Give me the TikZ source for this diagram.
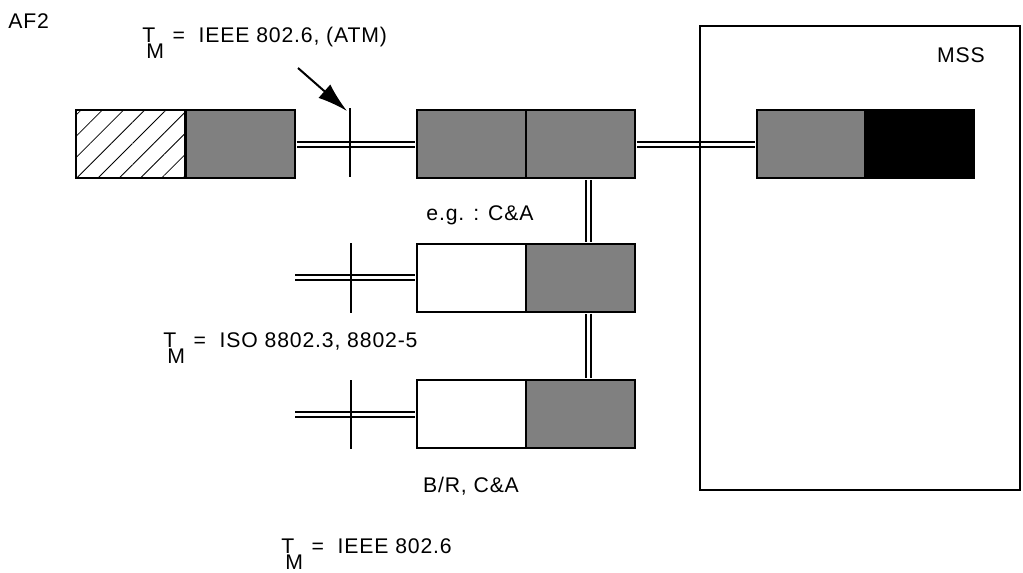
\documentclass[tikz,border=0pt]{standalone}
\usepackage{fontspec}
\setmainfont{Liberation Sans}[LetterSpace=4]
\usetikzlibrary{arrows.meta,patterns.meta}

\newcommand{\tmeq}{T\kern-0.42em\raisebox{-0.78em}{M}\kern0.4em=\kern0.65em}

\begin{document}
\begin{tikzpicture}[x=0.5pt,y=-0.5pt,
  every node/.style={font=\fontsize{10.6}{12}\selectfont},
  unit/.style={draw,line width=1pt,minimum width=54.5pt,minimum height=34pt,inner sep=0pt},
  greybox/.style={unit,fill=black!50},
  whitebox/.style={unit,fill=white},
  darkbox/.style={unit,fill=black},
  hatchbox/.style={unit,pattern={Lines[angle=45,distance=7.5pt,line width=0.4pt]}},
  link/.style={double,line width=1pt,double distance=1.5pt,shorten <=0.5pt,shorten >=0.5pt},
  tick/.style={line width=1pt},
  lbl/.style={inner sep=0pt}]

\useasboundingbox (0,0) rectangle (1023,573);

% top row
\node[hatchbox] (h1) at (130.5,144) {};
\node[greybox] (g1) at (240,144) {};
\node[greybox] (c1) at (471.5,144) {};
\node[greybox] (c2) at (580,144) {};

% MSS side
\node[greybox] (m1) at (811,144) {};
\node[darkbox] (m2) at (919,144) {};

% second and third rows
\node[whitebox] (b1) at (471.5,277.5) {};
\node[greybox] (b2) at (580,277.5) {};
\node[whitebox] (d1) at (471.5,414) {};
\node[greybox] (d2) at (580,414) {};

\coordinate (e2) at (294,277.5);
\coordinate (e3) at (294,414);

\draw[link] (g1.east) -- (c1.west);
\draw[link] (c2.east) -- (m1.west);
\draw[link] ([xshift=4.25pt]c2.south) -- ([xshift=4.25pt]b2.north);
\draw[link] ([xshift=4.25pt]b2.south) -- ([xshift=4.25pt]d2.north);
\draw[link] (e2) -- (b1.west);
\draw[link] (e3) -- (d1.west);

\node[draw,line width=1pt,minimum width=160pt,minimum height=232pt,inner sep=0pt] (mss) at (860,258) {};

% reference points
\draw[tick] (350,108) -- (350,177);
\draw[tick] (351,243) -- (351,313);
\draw[tick] (351,380) -- (351,449);

\coordinate (a0) at (298,68);
\coordinate (a1) at (347,111);
\draw[line width=1pt,-{Latex[length=15pt,width=9pt]}] (a0) -- (a1);

% labels
\node[lbl,anchor=base west] (af) at (8,28) {AF2};
\node[lbl,anchor=base west] (tm1) at (142,42) {\tmeq IEEE 802.6, (ATM)};
\node[lbl,anchor=base west] (tm2) at (163,347) {\tmeq ISO 8802.3, 8802-5};
\node[lbl,anchor=base west] (tm3) at (281,553) {\tmeq IEEE 802.6};
\node[lbl,anchor=base] (eg) at (480,220) {e.g. : C\&A};
\node[lbl,anchor=base] (br) at (471,492) {B/R, C\&A};
\node[lbl,anchor=base] (msslbl) at (961,62) {MSS};

\end{tikzpicture}
\end{document}
